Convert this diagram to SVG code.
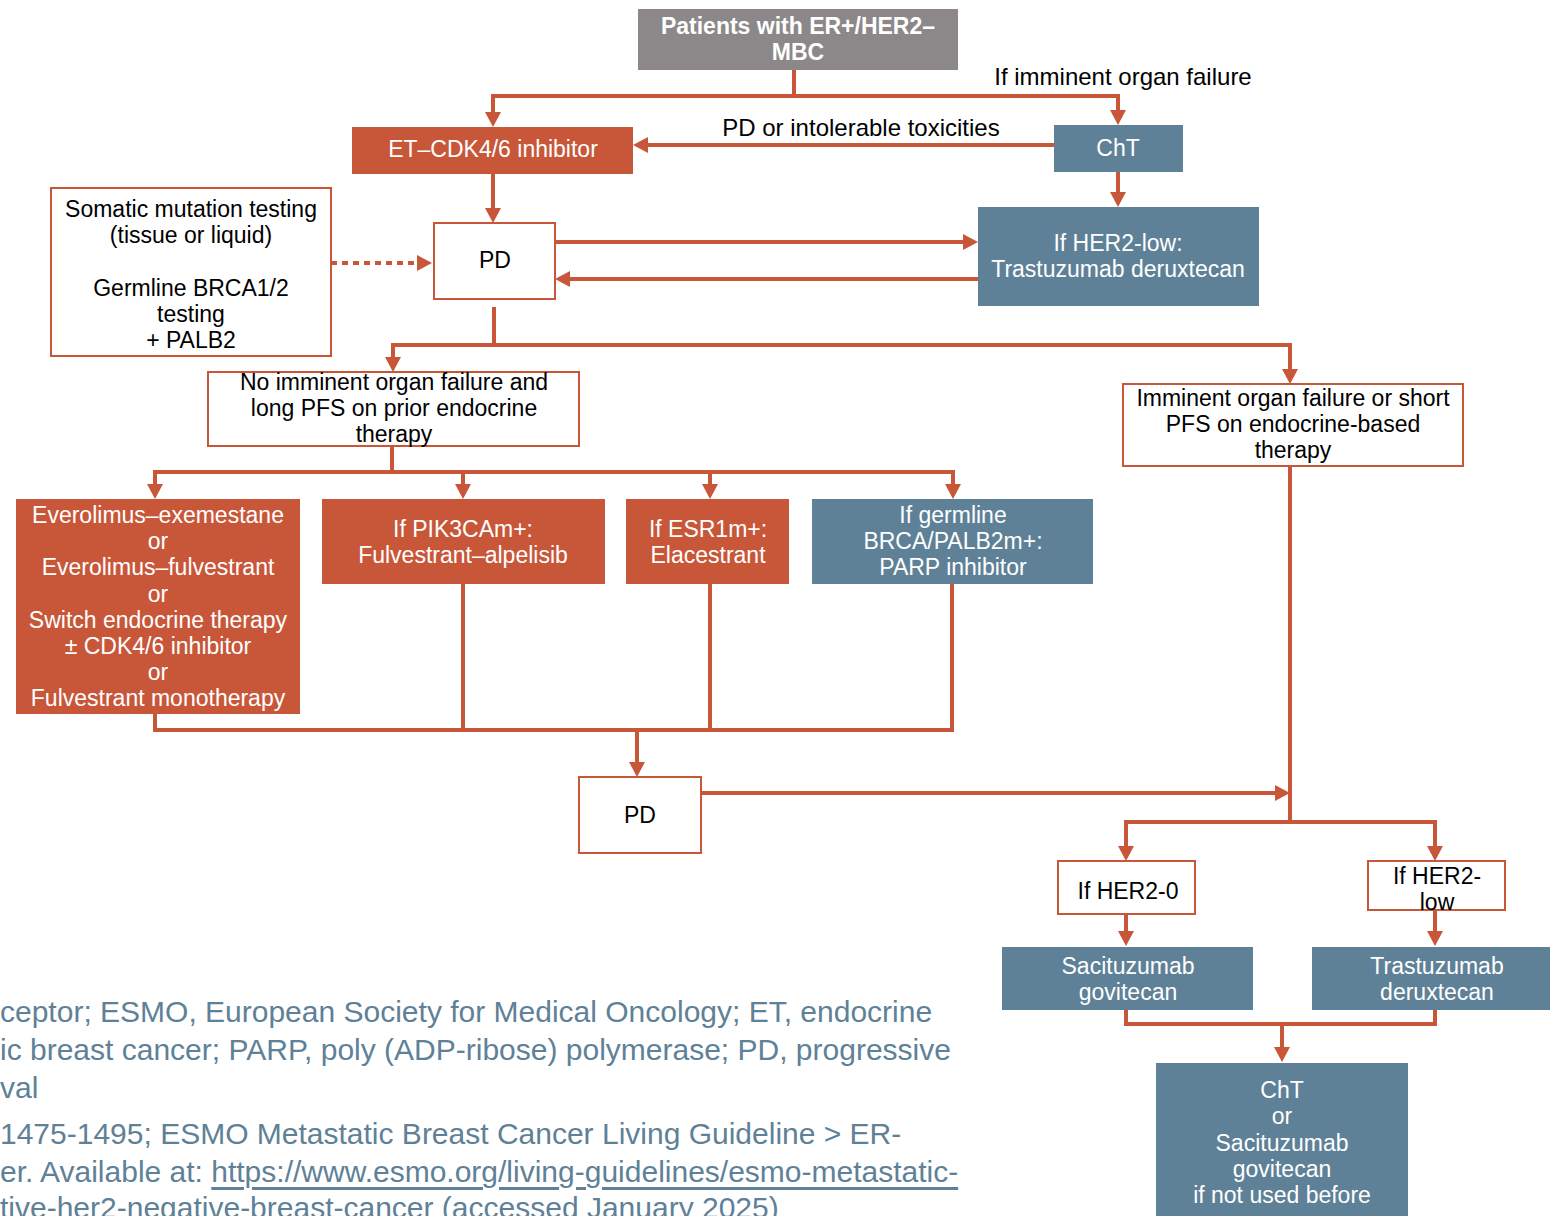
<svg xmlns="http://www.w3.org/2000/svg" width="1550" height="1216" viewBox="0 0 1550 1216">
<style>
text{font-family:"Liberation Sans",Arial,sans-serif;text-anchor:middle;dominant-baseline:central}
.t{font-size:23px;fill:#000}
.l{font-size:24px;fill:#000}
.w{font-size:23px;fill:#fff}
.b{font-size:23px;fill:#fff;font-weight:bold}
.orange{fill:#C8573A}
.blue{fill:#5E8197}
.grey{fill:#8C8889}
.outl{fill:#fff;stroke:#C8573A;stroke-width:2}
.c{fill:none;stroke:#C8573A;stroke-width:4}
.foot{font-size:30px;fill:#5E8197;text-anchor:start}
</style>
<defs>
<marker id="ah" markerUnits="userSpaceOnUse" markerWidth="16" markerHeight="16" refX="0" refY="8" orient="auto" overflow="visible">
<path d="M0,0 L15,8 L0,16 z" fill="#C8573A"/>
</marker>
</defs>

<g id="connectors">
<path class="c" d="M794 70 V96 H493 V112" marker-end="url(#ah)"/>
<path class="c" d="M794 96 H1118 V110" marker-end="url(#ah)"/>
<path class="c" d="M1054 145 H648" marker-end="url(#ah)"/>
<path class="c" d="M1118 172 V192" marker-end="url(#ah)"/>
<path class="c" d="M493 174 V208" marker-end="url(#ah)"/>
<path class="c" d="M555 242 H963" marker-end="url(#ah)"/>
<path class="c" d="M978 279 H570" marker-end="url(#ah)"/>
<path class="c" d="M331 263 H417" stroke-dasharray="6 5" marker-end="url(#ah)"/>
<path class="c" d="M494 307 V345 H393 V357" marker-end="url(#ah)"/>
<path class="c" d="M494 345 H1290 V369" marker-end="url(#ah)"/>
<path class="c" d="M392 446 V472 H155 V484" marker-end="url(#ah)"/>
<path class="c" d="M392 472 H953 V484" marker-end="url(#ah)"/>
<path class="c" d="M463 472 V484" marker-end="url(#ah)"/>
<path class="c" d="M710 472 V484" marker-end="url(#ah)"/>
<path class="c" d="M155 714 V730 H952 V584"/>
<path class="c" d="M463 584 V730"/>
<path class="c" d="M710 584 V730"/>
<path class="c" d="M637 730 V762" marker-end="url(#ah)"/>
<path class="c" d="M701 793 H1275" marker-end="url(#ah)"/>
<path class="c" d="M1290 466 V822 H1126 V846" marker-end="url(#ah)"/>
<path class="c" d="M1290 822 H1435 V846" marker-end="url(#ah)"/>
<path class="c" d="M1126 914 V931" marker-end="url(#ah)"/>
<path class="c" d="M1435 910 V931" marker-end="url(#ah)"/>
<path class="c" d="M1126 1010 V1024 H1435 V1010"/>
<path class="c" d="M1282 1024 V1047" marker-end="url(#ah)"/>
<text class="l" x="1123" y="76">If imminent organ failure</text>
<text class="l" x="861" y="127">PD or intolerable toxicities</text>
</g>

<g id="n-start">
<rect class="grey" x="638" y="9" width="320" height="61"/>
<text class="b" x="798" y="26">Patients with ER+/HER2–</text>
<text class="b" x="798" y="52">MBC</text>
</g>

<g id="n-et">
<rect class="orange" x="352" y="127" width="281" height="47"/>
<text class="w" x="493" y="149">ET–CDK4/6 inhibitor</text>
</g>

<g id="n-cht">
<rect class="blue" x="1054" y="125" width="129" height="47"/>
<text class="w" x="1118" y="148">ChT</text>
</g>

<g id="n-testing">
<rect class="outl" x="51" y="188" width="280" height="168"/>
<text class="t" x="191" y="209">Somatic mutation testing</text>
<text class="t" x="191" y="235">(tissue or liquid)</text>
<text class="t" x="191" y="288">Germline BRCA1/2</text>
<text class="t" x="191" y="314">testing</text>
<text class="t" x="191" y="340">+ PALB2</text>
</g>

<g id="n-pd1">
<rect class="outl" x="434" y="223" width="121" height="76"/>
<text class="t" x="495" y="260">PD</text>
</g>

<g id="n-her2low">
<rect class="blue" x="978" y="207" width="281" height="99"/>
<text class="w" x="1118" y="243">If HER2-low:</text>
<text class="w" x="1118" y="269">Trastuzumab deruxtecan</text>
</g>

<g id="n-noimm">
<rect class="outl" x="208" y="372" width="371" height="74"/>
<text class="t" x="394" y="382">No imminent organ failure and</text>
<text class="t" x="394" y="408">long PFS on prior endocrine</text>
<text class="t" x="394" y="434">therapy</text>
</g>

<g id="n-imm">
<rect class="outl" x="1123" y="384" width="340" height="82"/>
<text class="t" x="1293" y="398">Imminent organ failure or short</text>
<text class="t" x="1293" y="424">PFS on endocrine-based</text>
<text class="t" x="1293" y="450">therapy</text>
</g>

<g id="n-everolimus">
<rect class="orange" x="16" y="499" width="284" height="215"/>
<text class="w" x="158" y="515">Everolimus–exemestane</text>
<text class="w" x="158" y="541">or</text>
<text class="w" x="158" y="567">Everolimus–fulvestrant</text>
<text class="w" x="158" y="594">or</text>
<text class="w" x="158" y="620">Switch endocrine therapy</text>
<text class="w" x="158" y="646">± CDK4/6 inhibitor</text>
<text class="w" x="158" y="672">or</text>
<text class="w" x="158" y="698">Fulvestrant monotherapy</text>
</g>

<g id="n-pik3ca">
<rect class="orange" x="322" y="499" width="283" height="85"/>
<text class="w" x="463" y="529">If PIK3CAm+:</text>
<text class="w" x="463" y="555">Fulvestrant–alpelisib</text>
</g>

<g id="n-esr1">
<rect class="orange" x="626" y="499" width="163" height="85"/>
<text class="w" x="708" y="529">If ESR1m+:</text>
<text class="w" x="708" y="555">Elacestrant</text>
</g>

<g id="n-parp">
<rect class="blue" x="812" y="499" width="281" height="85"/>
<text class="w" x="953" y="515">If germline</text>
<text class="w" x="953" y="541">BRCA/PALB2m+:</text>
<text class="w" x="953" y="567">PARP inhibitor</text>
</g>

<g id="n-pd2">
<rect class="outl" x="579" y="777" width="122" height="76"/>
<text class="t" x="640" y="815">PD</text>
</g>

<g id="n-her20">
<rect class="outl" x="1058" y="861" width="137" height="53"/>
<text class="t" x="1128" y="891">If HER2-0</text>
</g>

<g id="n-her2low2">
<rect class="outl" x="1368" y="861" width="137" height="49"/>
<text class="t" x="1437" y="876">If HER2-</text>
<text class="t" x="1437" y="902">low</text>
</g>

<g id="n-sg">
<rect class="blue" x="1002" y="947" width="251" height="63"/>
<text class="w" x="1128" y="966">Sacituzumab</text>
<text class="w" x="1128" y="992">govitecan</text>
</g>

<g id="n-tdxd">
<rect class="blue" x="1312" y="947" width="238" height="63"/>
<text class="w" x="1437" y="966">Trastuzumab</text>
<text class="w" x="1437" y="992">deruxtecan</text>
</g>

<g id="n-final">
<rect class="blue" x="1156" y="1063" width="252" height="160"/>
<text class="w" x="1282" y="1090">ChT</text>
<text class="w" x="1282" y="1116">or</text>
<text class="w" x="1282" y="1143">Sacituzumab</text>
<text class="w" x="1282" y="1169">govitecan</text>
<text class="w" x="1282" y="1195">if not used before</text>
</g>

<g id="footer">
<text class="foot" x="0" y="1011">ceptor; ESMO, European Society for Medical Oncology; ET, endocrine</text>
<text class="foot" x="0" y="1049">ic breast cancer; PARP, poly (ADP-ribose) polymerase; PD, progressive</text>
<text class="foot" x="0" y="1087">val</text>
<text class="foot" x="0" y="1133">1475-1495; ESMO Metastatic Breast Cancer Living Guideline &gt; ER-</text>
<text class="foot" x="0" y="1171">er. Available at: <tspan text-decoration="underline">https://www.esmo.org/living-guidelines/esmo-metastatic-</tspan></text>
<text class="foot" x="0" y="1207">tive-her2-negative-breast-cancer (accessed January 2025)</text>
</g>
</svg>
